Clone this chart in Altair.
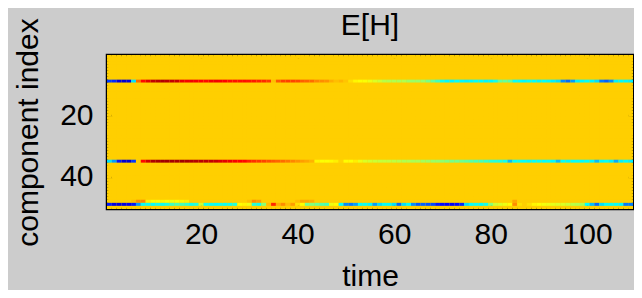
import altair as alt
import pandas as pd

# ---- data ----
times = list(range(1, 110))          # time steps 1..109
components = list(range(1, 51))      # component index 1..50
x_ticks = [20, 40, 60, 80, 100]
y_ticks = [20, 40]

# E[H] values of the non-zero components (all other components are 0)
r09 = [-1.5, -1.55, -1.75, -1.8, -1.75, -1.0, 0.3, 0.6, 0.7, 0.8,
       0.82, 0.85, 0.82, 0.8, 0.78, 0.68, 0.65, 0.66, 0.64, 0.62,
       0.6, 0.65, 0.66, 0.64, 0.62, 0.58, 0.58, 0.57, 0.58, 0.56,
       0.55, 0.52, 0.5, 0.45, 0.05, 0.35, 0.42, 0.43, 0.42, 0.4,
       0.34, 0.32, 0.3, 0.22, 0.2, 0.18, 0.1, 0.05, 0.08, 0.03,
       -0.05, -0.12, -0.15, -0.16, -0.2, -0.25, -0.3, -0.36, -0.38, -0.38,
       -0.4, -0.38, -0.44, -0.45, -0.46, -0.45, -0.55, -0.6, -0.72, -0.85,
       -0.92, -0.93, -0.9, -0.92, -0.94, -0.92, -0.9, -0.91, -0.93, -0.92,
       -0.85, -0.62, -0.6, -0.65, -0.88, -0.9, -0.92, -0.9, -0.91, -0.93,
       -0.9, -0.92, -0.95, -1.0, -1.25, -1.35, -1.2, -0.95, -0.92, -0.9,
       -0.93, -1.0, -1.3, -1.38, -1.25, -0.95, -0.92, -0.93, -0.95]

r35 = [-1.0, -1.2, -1.6, -1.8, -1.8, -1.5, 0.0, 0.6, 0.75, 0.86,
       0.88, 0.9, 0.9, 0.89, 0.88, 0.9, 0.88, 0.86, 0.84, 0.83,
       0.82, 0.8, 0.78, 0.72, 0.7, 0.67, 0.64, 0.62, 0.6, 0.52,
       0.48, 0.45, 0.42, 0.38, 0.35, 0.32, 0.3, 0.26, 0.22, 0.18,
       0.15, 0.12, 0.08, -0.12, -0.15, -0.15, -0.13, -0.1, -0.02, -0.14,
       -0.15, -0.1, -0.2, -0.25, -0.28, -0.3, -0.32, -0.32, -0.33, -0.34,
       -0.36, -0.38, -0.38, -0.4, -0.4, -0.42, -0.44, -0.45, -0.46, -0.48,
       -0.52, -0.55, -0.56, -0.58, -0.62, -0.65, -0.68, -0.7, -0.74, -0.78,
       -0.8, -0.82, -0.85, -1.1, -0.9, -0.88, -0.9, -0.92, -0.9, -0.9,
       -0.91, -0.9, -0.92, -1.1, -0.9, -0.92, -0.9, -0.9, -0.91, -0.9,
       -0.93, -1.1, -0.92, -0.9, -0.95, -1.15, -0.95, -0.92, -0.95]

r48 = [0.0, 0.0, 0.0, 0.0, 0.0, 0.05, 0.2, 0.22, -0.1, -0.15,
       -0.15, -0.12, -0.15, -0.18, -0.15, -0.12, -0.1, 0.0, 0.0, 0.0,
       0.0, 0.0, 0.0, 0.0, 0.0, 0.0, 0.0, 0.0, 0.0, 0.05,
       0.2, 0.15, 0.0, 0.0, 0.0, 0.0, 0.0, 0.0, 0.0, 0.05,
       0.12, 0.12, 0.1, 0.0, 0.0, 0.0, 0.0, 0.0, 0.0, 0.0,
       0.0, 0.0, 0.0, 0.0, 0.0, 0.0, 0.0, 0.0, 0.0, 0.0,
       0.0, 0.0, 0.0, 0.0, 0.0, 0.0, 0.0, 0.0, 0.0, 0.0,
       0.0, 0.0, 0.0, 0.0, 0.0, 0.0, 0.0, 0.0, 0.0, 0.0,
       0.0, 0.0, 0.0, 0.0, 0.12, 0.0, 0.0, 0.0, 0.0, 0.0,
       0.0, 0.0, 0.0, 0.0, 0.0, 0.0, 0.0, 0.0, 0.0, 0.0,
       0.0, 0.0, 0.0, 0.0, 0.0, 0.0, 0.0, 0.0, 0.0]

r49 = [-1.6, -1.75, -1.78, -1.75, -1.72, -1.6, -1.2, -0.9, -0.88, -0.9,
       -0.85, -0.88, -0.82, -0.72, -0.68, -0.7, -0.75, -0.85, -0.8, -0.3,
       -0.85, -0.88, -0.9, -0.86, -0.88, -0.85, -0.8, -0.15, -0.12, -0.2,
       -0.8, -0.85, -0.5, 0.05, 0.5, 0.1, 0.2, 0.05, 0.15, -0.05,
       -0.15, -0.55, -0.52, -0.58, -0.65, -0.7, -0.2, -0.15, -0.9, -1.25,
       -1.3, -1.2, -0.9, -0.88, -0.92, -1.2, -1.0, -0.9, -0.9, -1.0,
       -1.35, -1.0, -0.9, -1.25, -1.4, -1.38, -1.42, -1.45, -1.6, -1.65,
       -1.68, -1.7, -1.65, -1.55, -1.0, -0.9, -0.88, -0.9, -0.85, -0.5,
       -0.3, -0.25, -0.2, -0.15, 0.2, -0.05, 0.0, -0.05, -0.12, -0.15,
       -0.18, -0.2, -0.22, -0.25, -0.25, -0.3, -0.35, -0.38, -0.4, -0.9,
       -1.1, -1.35, -1.0, -0.9, -0.88, -0.9, -0.92, -1.3, -1.3]

active_rows = {9: r09, 35: r35, 48: r48, 49: r49}
for k, v in active_rows.items():
    assert len(v) == len(times), (k, len(v))

VMIN, VMAX = -2.05, 1.0   # colour limits (jet colormap)
jet_positions = [0.0, 0.125, 0.375, 0.625, 0.875, 1.0]
jet_colors = ["#000080", "#0000ff", "#00ffff", "#ffff00", "#ff0000", "#800000"]

records = []
for c in components:
    row = active_rows.get(c)
    for i, t in enumerate(times):
        records.append({"time": t, "component": c,
                        "value": row[i] if row is not None else 0.0})
df = pd.DataFrame(records)
tick_df = pd.DataFrame({"time": x_ticks, "component": [20, 40, 20, 40, 20]})

FONT = "Liberation Sans"
xscale = alt.Scale(domain=[0.5, 109.5], nice=False, zero=False)
yscale = alt.Scale(domain=[0.5, 50.5], nice=False, zero=False, reverse=True)
cscale = alt.Scale(domain=[VMIN + p * (VMAX - VMIN) for p in jet_positions],
                   range=jet_colors, interpolate="rgb", clamp=True)

heat = alt.Chart(df).transform_calculate(
    t0="datum.time - 0.5", t1="datum.time + 0.5",
    c0="datum.component - 0.5", c1="datum.component + 0.5",
).mark_rect().encode(
    x=alt.X("t0:Q", scale=xscale,
            axis=alt.Axis(orient="bottom", values=x_ticks, format="d", title="time",
                          offset=-5, tickSize=5, labelPadding=10, titlePadding=12)),
    x2="t1:Q",
    y=alt.Y("c0:Q", scale=yscale,
            axis=alt.Axis(orient="left", values=y_ticks, format="d", title="component index",
                          offset=-5, tickSize=5, labelPadding=14, titlePadding=16)),
    y2="c1:Q",
    color=alt.Color("value:Q", scale=cscale, legend=None),
)

frame = alt.Chart(tick_df).mark_point(opacity=0).encode(
    x=alt.X("time:Q", scale=xscale,
            axis=alt.Axis(orient="top", values=x_ticks, labels=False, title=None,
                          offset=-5, tickSize=5)),
    y=alt.Y("component:Q", scale=yscale,
            axis=alt.Axis(orient="right", values=y_ticks, labels=False, title=None,
                          offset=-5, tickSize=5)),
)

chart = alt.layer(heat, frame).resolve_axis(
    x="independent", y="independent"
).properties(
    width=526, height=154,
    title=alt.Title("E[H]", fontSize=30, font=FONT, fontWeight="normal",
                    color="black", baseline="alphabetic", offset=-47, anchor="middle"),
    background="#cccccc",
    padding={"left": 99, "top": 47, "right": 1, "bottom": 81},
    autosize=alt.AutoSizeParams(type="none"),
).configure_view(
    fill="#ffcf00", stroke="black", strokeWidth=2.5,
).configure_axis(
    domain=False, grid=False,
    labelFont=FONT, labelFontSize=30, labelColor="black",
    titleFont=FONT, titleFontSize=30, titleFontWeight="normal", titleColor="black",
    tickColor="black", tickWidth=1.5,
)

chart.save("out.html", embed_options={"renderer": "svg", "actions": False})
